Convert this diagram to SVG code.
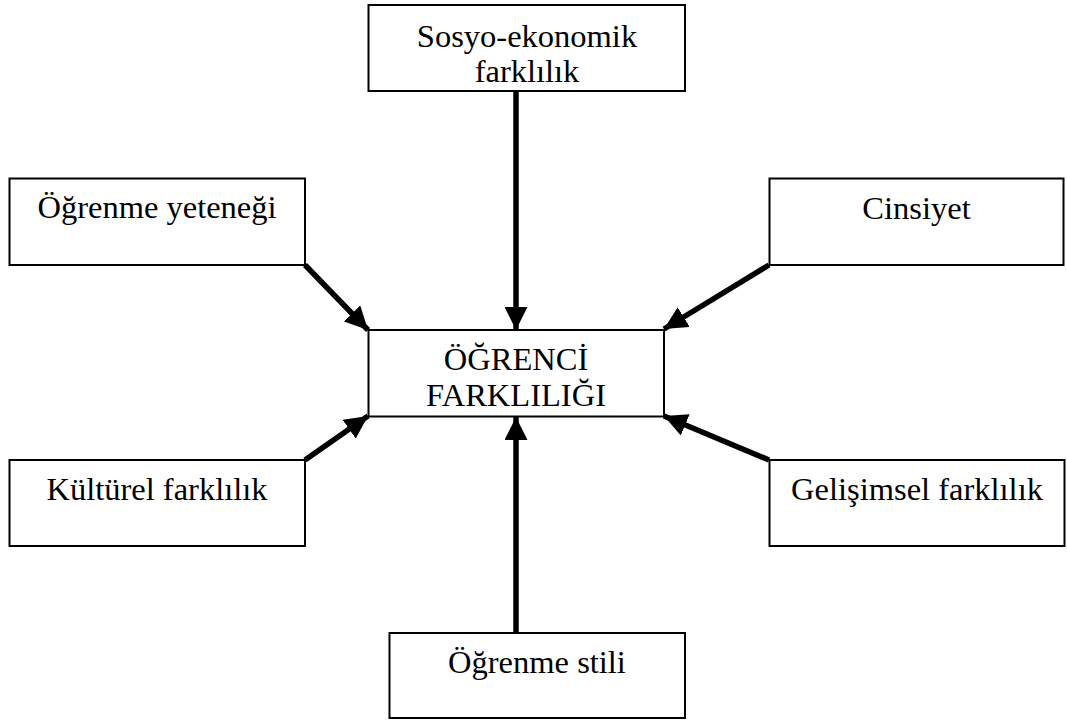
<svg xmlns="http://www.w3.org/2000/svg" width="1067" height="722" viewBox="0 0 1067 722">
<style>
.box{fill:#fff;stroke:#000;stroke-width:2}
.t{font-family:"Liberation Serif","Times New Roman",serif;font-size:32.5px;fill:#000;text-anchor:middle}
.c{stroke:#000;stroke-width:5.5;fill:none;marker-end:url(#ah)}
</style>
<defs>
<marker id="ah" markerUnits="userSpaceOnUse" markerWidth="23" markerHeight="23" viewBox="0 0 20 20" refX="20" refY="10" orient="auto">
<path d="M0,0 L20,10 L0,20 Z" fill="#000"/>
</marker>
</defs>
<rect width="1067" height="722" fill="#fff"/>
<g id="connectors">
<line class="c" x1="516" y1="91" x2="516" y2="330"/>
<line class="c" x1="305" y1="265" x2="368" y2="330"/>
<line class="c" x1="769" y1="265" x2="664" y2="329"/>
<line class="c" x1="305" y1="460" x2="368" y2="416"/>
<line class="c" x1="769" y1="460" x2="664" y2="416"/>
<line class="c" x1="516" y1="633" x2="516" y2="417"/>
</g>
<g id="n-sosyo">
<rect class="box" x="368.5" y="5" width="316.5" height="86"/>
<text class="t" x="527" y="47">Sosyo-ekonomik</text>
<text class="t" x="527" y="82">farklılık</text>
</g>
<g id="n-ogrenme-yetenegi">
<rect class="box" x="9.5" y="178.5" width="295.5" height="86.5"/>
<text class="t" x="157" y="218">Öğrenme yeteneği</text>
</g>
<g id="n-cinsiyet">
<rect class="box" x="769.5" y="178.5" width="294" height="86.5"/>
<text class="t" x="916.5" y="219">Cinsiyet</text>
</g>
<g id="n-center">
<rect class="box" x="368.5" y="330" width="295.5" height="86.5"/>
<text class="t" x="516" y="370">ÖĞRENCİ</text>
<text class="t" x="516" y="406">FARKLILIĞI</text>
</g>
<g id="n-kulturel">
<rect class="box" x="9.5" y="460" width="295.5" height="86"/>
<text class="t" x="157" y="500">Kültürel farklılık</text>
</g>
<g id="n-gelisimsel">
<rect class="box" x="769.5" y="460" width="295" height="86"/>
<text class="t" x="917" y="500">Gelişimsel farklılık</text>
</g>
<g id="n-ogrenme-stili">
<rect class="box" x="389.5" y="633" width="295.5" height="85"/>
<text class="t" x="537" y="673">Öğrenme stili</text>
</g>
</svg>
